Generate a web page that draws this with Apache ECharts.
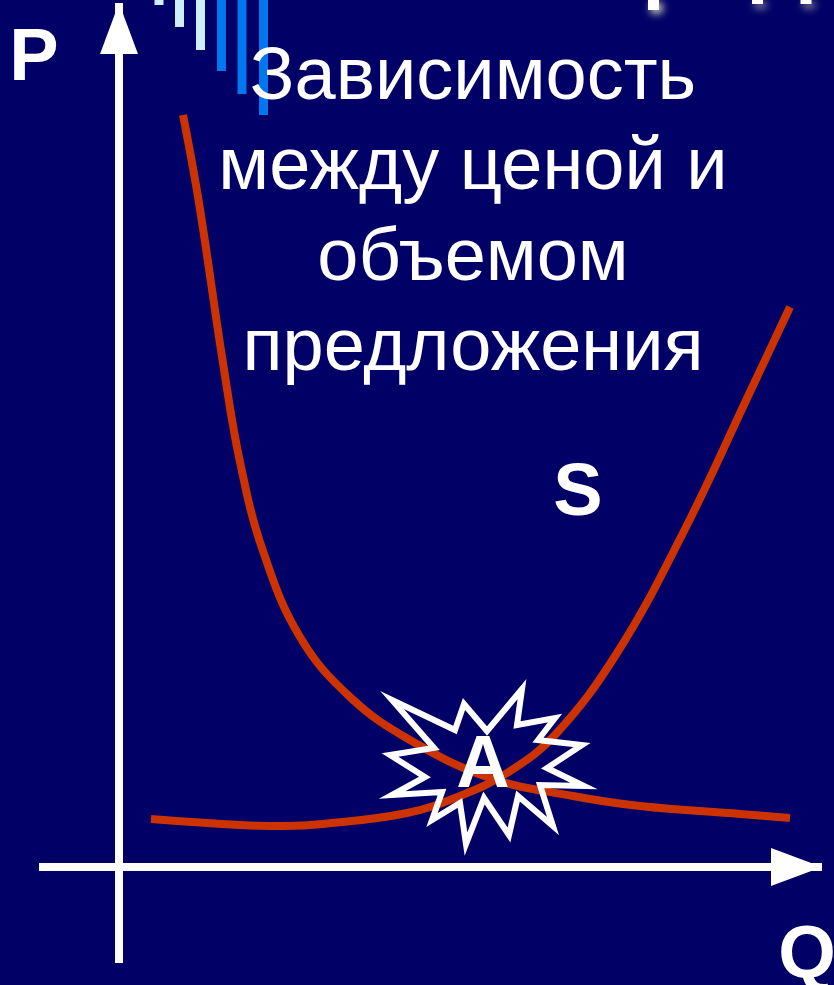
<!DOCTYPE html>
<html>
<head>
    <meta charset="utf-8">
    <title>Зависимость между ценой и объемом предложения</title>
    <script src="https://cdn.jsdelivr.net/npm/echarts@6/dist/echarts.min.js"></script>
    <style>
        html, body {margin: 0; padding: 0; background: #000066;}
        #main {width: 834px; height: 985px;}
    </style>
</head>
<body>
<div id="main"></div>
<script type="text/javascript">
    var titleText = 'Зависимость\nмежду ценой и\nобъемом\nпредложения';

    // descending curve, Q and P counted from the axis crossing
    var curve1Q = [64, 80, 104, 121, 144, 181, 231, 291, 371, 454, 521, 621, 671];
    var curve1P = [752, 664, 504, 405, 316, 230, 170, 127, 89, 71, 61, 53, 49];

    // rising curve
    var curve2Q = [32, 121, 164, 204, 288, 341, 388, 436, 498, 564, 631, 671];
    var curve2P = [48, 42, 41, 43, 54, 71, 94, 132, 214, 334, 475, 560];

    // burst outline around point A
    var burstQ = [273, 336, 345, 368, 403, 398, 436, 419, 463, 428, 465, 421, 434, 399, 390, 365, 347, 341, 313, 323, 273, 306, 271, 315];
    var burstP = [167, 137, 163, 136, 178, 142, 149, 127, 122, 99, 81, 82, 41, 71, 32, 69, 23, 64, 47, 75, 72, 90, 112, 119];

    // labels
    var labelNames = ['P', 'S', 'A', 'Q'];
    var labelQ = [-85, 459, 364, 688];
    var labelP = [807, 372, 100, -90];

    // bars hanging from the top edge
    var lightBarX = [160, 180.5, 201.5];
    var lightBarH = [5, 27, 50];
    var blueBarX = [222.5, 243, 264.5];
    var blueBarH = [71, 94, 115];
    var cutoffX = [653.5, 757.5, 806];
    var cutoffH = [10, 4, 4];

    function zip(a, b) {
        var out = [];
        for (var i = 0; i < a.length; i++) {
            out.push([a[i], b[i]]);
        }
        return out;
    }

    var myChart = echarts.init(document.getElementById('main'));

    var labelData = [];
    for (var i = 0; i < labelNames.length; i++) {
        labelData.push({name: labelNames[i], value: [labelQ[i], labelP[i]]});
    }

    var option = {
        backgroundColor: '#000066',
        animation: false,
        title: {
            text: titleText,
            left: 468,
            top: 28,
            textAlign: 'center',
            textStyle: {
                color: '#ffffff',
                fontFamily: 'Liberation Sans',
                fontWeight: 'normal',
                fontSize: 74,
                lineHeight: 90.5
            }
        },
        grid: [
            {left: 39, right: 12, top: 3, bottom: 22},
            {left: 0, right: 0, top: 0, bottom: 0}
        ],
        xAxis: [
            {
                type: 'value', gridIndex: 0, min: -80, max: 703, z: 3,
                axisLine: {
                    onZero: true,
                    symbol: ['none', 'triangle'],
                    symbolSize: [38, 51],
                    symbolOffset: [0, -25.5],
                    lineStyle: {color: '#ffffff', width: 8, cap: 'butt'}
                },
                axisTick: {show: false}, axisLabel: {show: false}, splitLine: {show: false}
            },
            {type: 'value', gridIndex: 1, min: 0, max: 834, show: false, splitLine: {show: false}}
        ],
        yAxis: [
            {
                type: 'value', gridIndex: 0, min: -96, max: 864, z: 3,
                axisLine: {
                    onZero: true,
                    symbol: ['none', 'triangle'],
                    symbolSize: [38, 51],
                    symbolOffset: [0, -25.5],
                    lineStyle: {color: '#ffffff', width: 8, cap: 'butt'}
                },
                axisTick: {show: false}, axisLabel: {show: false}, splitLine: {show: false}
            },
            {type: 'value', gridIndex: 1, min: 0, max: 985, inverse: true, show: false, splitLine: {show: false}}
        ],
        series: [
            {
                type: 'bar', xAxisIndex: 1, yAxisIndex: 1, barWidth: 9, barGap: '-100%', z: 1,
                itemStyle: {color: '#cceeff'},
                data: zip(lightBarX, lightBarH)
            },
            {
                type: 'bar', xAxisIndex: 1, yAxisIndex: 1, barWidth: 9, barGap: '-100%', z: 1,
                itemStyle: {color: '#0077ee'},
                data: zip(blueBarX, blueBarH)
            },
            {
                type: 'bar', xAxisIndex: 1, yAxisIndex: 1, barWidth: 11, barGap: '-100%', z: 1,
                itemStyle: {color: '#ffffff', shadowColor: '#ffffcc', shadowBlur: 8, shadowOffsetX: 3, shadowOffsetY: 3},
                data: zip(cutoffX, cutoffH)
            },
            {
                type: 'line', smooth: 0.4, showSymbol: false, z: 4,
                lineStyle: {color: '#cc3300', width: 8, cap: 'butt'},
                data: zip(curve1Q, curve1P)
            },
            {
                type: 'line', smooth: 0.4, showSymbol: false, z: 4,
                lineStyle: {color: '#cc3300', width: 8, cap: 'butt'},
                data: zip(curve2Q, curve2P)
            },
            {
                type: 'custom', z: 5, clip: false,
                renderItem: function (params, api) {
                    if (params.dataIndex !== 0) {
                        return null;
                    }
                    var pts = [];
                    for (var i = 0; i < burstQ.length; i++) {
                        pts.push(api.coord([burstQ[i], burstP[i]]));
                    }
                    return {
                        type: 'polygon',
                        shape: {points: pts},
                        style: {fill: 'none', stroke: '#ffffff', lineWidth: 6, lineJoin: 'miter', miterLimit: 20}
                    };
                },
                data: zip(burstQ, burstP)
            },
            {
                type: 'scatter', symbolSize: 0, z: 6, clip: false,
                itemStyle: {opacity: 1},
                label: {
                    show: true,
                    position: 'inside',
                    formatter: '{b}',
                    color: '#ffffff',
                    opacity: 1,
                    fontFamily: 'Liberation Sans',
                    fontWeight: 'bold',
                    fontSize: 74
                },
                data: labelData
            }
        ]
    };

    myChart.setOption(option);
</script>
</body>
</html>
